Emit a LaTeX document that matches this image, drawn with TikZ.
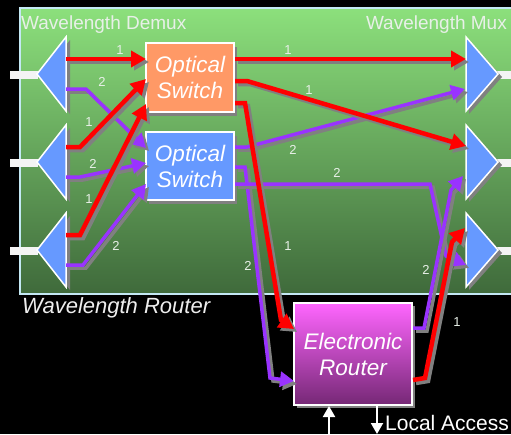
\documentclass[tikz,border=0pt]{standalone}
\usepackage{fontspec}
\setmainfont{Liberation Sans}
\usetikzlibrary{arrows.meta}
\definecolor{panelTop}{HTML}{8CE07C}
\definecolor{panelBot}{HTML}{3F6A3B}
\definecolor{panelEdge}{HTML}{C4E8F4}
\definecolor{triBlue}{HTML}{6699FF}
\definecolor{swOrange}{HTML}{FF9966}
\definecolor{redLine}{HTML}{FF0000}
\definecolor{purLine}{HTML}{9933FF}
\definecolor{shadowGray}{HTML}{808080}
\definecolor{routerTop}{HTML}{FF66FF}
\definecolor{routerBot}{HTML}{752875}
\definecolor{labelCol}{HTML}{E8F0E8}
\definecolor{stubWhite}{HTML}{F4F4F4}
\tikzset{
  redwire/.style={draw=redLine, line width=4.5pt, -{Triangle[length=15pt,width=16pt]}},
  purwire/.style={draw=purLine, line width=3.5pt, -{Triangle[length=14pt,width=15pt]}},
  wireshadow/.style={draw=shadowGray},
  numlbl/.style={text=labelCol, font=\fontsize{13}{13}\selectfont, inner sep=0pt},
  boxtext/.style={text=white, align=center, font=\fontsize{22.5}{26}\selectfont\itshape},
  tribox/.style={fill=triBlue, draw=white, line width=1.5pt, line join=miter},
  trishadow/.style={fill=shadowGray}
}
\newcommand\wire[2]{%
  \begin{scope}[transform canvas={shift={(3pt,-3pt)}}]\draw[#1,wireshadow] #2;\end{scope}
  \draw[#1] #2;}
\newcommand\demuxtri[1]{%
  \fill[stubWhite] (10,#1-3) rectangle (38,#1+5);
  \fill[trishadow] (41,#1+3) -- (70,#1-34) -- (70,#1+40) -- cycle;
  \path[tribox] (37,#1) -- (66,#1-37) -- (66,#1+37) -- cycle;}
\newcommand\muxtri[1]{%
  \fill[stubWhite] (497,#1-3) rectangle (515,#1+5);
  \fill[trishadow] (469,#1-34) -- (502,#1+3) -- (469,#1+40) -- cycle;
  \path[tribox] (466,#1-37) -- (498,#1) -- (466,#1+37) -- cycle;}
\begin{document}
\begin{tikzpicture}[x=1pt,y=-1pt]
\useasboundingbox (0,0) rectangle (511,434);
\fill[black] (0,0) rectangle (511,434);
\clip (0,0) rectangle (511,434);
% panel
\shade[top color=panelTop, bottom color=panelBot] (20,8) rectangle (530,294);
\draw[panelEdge, line width=1.5pt] (20,8) rectangle (530,294);
\node[anchor=base west, text=labelCol, font=\fontsize{19}{19}\selectfont, inner sep=0pt] (demuxlbl) at (21,29) {Wavelength Demux};
\node[anchor=base east, text=labelCol, font=\fontsize{19}{19}\selectfont, inner sep=0pt] (muxlbl) at (507,29) {Wavelength Mux};
\node[anchor=base west, text=white!93!black, font=\fontsize{22}{22}\selectfont\itshape, inner sep=0pt] (routerlbl) at (22,313) {Wavelength Router};
% triangles
\demuxtri{74}
\demuxtri{162}
\demuxtri{250}
\muxtri{74}
\muxtri{162}
\muxtri{250}
% boxes
\fill[shadowGray] (149,47) rectangle (237,116);
\node[draw=white, line width=2pt, fill=swOrange, minimum width=88pt, minimum height=69pt, inner sep=0pt, boxtext] (sw1) at (190,77.5) {Optical\\Switch};
\fill[shadowGray] (149,136) rectangle (237,204);
\node[draw=white, line width=2pt, fill=triBlue, minimum width=88pt, minimum height=68pt, inner sep=0pt, boxtext] (sw2) at (190,166) {Optical\\Switch};
\fill[shadowGray] (297,306) rectangle (415,408);
\shade[top color=routerTop, bottom color=routerBot] (294,303) rectangle (412,405);
\draw[white, line width=2pt] (294,303) rectangle (412,405);
\node[boxtext, inner sep=0pt] (er) at (353,354) {Electronic\\Router};
% ports
\coordinate (d1a) at (66,59); \coordinate (d1b) at (66,89);
\coordinate (d2a) at (66,147); \coordinate (d2b) at (66,177);
\coordinate (d3a) at (66,235); \coordinate (d3b) at (66,265);
\coordinate (s1i1) at (146,59); \coordinate (s1i2) at (146,79); \coordinate (s1i3) at (146,104);
\coordinate (s2i1) at (146,148); \coordinate (s2i2) at (146,163); \coordinate (s2i3) at (146,184);
\coordinate (s1o1) at (235,59); \coordinate (s1o2) at (235,81); \coordinate (s1o3) at (235,103);
\coordinate (s2o1) at (235,147); \coordinate (s2o2) at (235,167); \coordinate (s2o3) at (235,184);
\coordinate (m1a) at (466,59); \coordinate (m1b) at (465,89);
\coordinate (m2a) at (466,146); \coordinate (m2b) at (463,176);
\coordinate (m3a) at (465,228); \coordinate (m3b) at (466,265);
\coordinate (ri1) at (294,329); \coordinate (ri2) at (294,381);
\coordinate (ro1) at (413,328); \coordinate (ro2) at (413,380);
% purple wires
\wire{purwire}{(d1b) -- (86,89) -- (s2i1)}
\wire{purwire}{(d2b) -- (80,177) -- (s2i2)}
\wire{purwire}{(d3b) -- (83,265) -- (s2i3)}
\wire{purwire}{(s2o1) -- (247,147) -- (m1b)}
\wire{purwire}{(s2o2) -- (245,167) -- (270,378) -- (ri2)}
\wire{purwire}{(s2o3) -- (430,184) -- (446,256) -- (m3b)}
\wire{purwire}{(ro1) -- (424,328) -- (451,190) -- (m2b)}
% red wires
\wire{redwire}{(d1a) -- (s1i1)}
\wire{redwire}{(d2a) -- (80,147) -- (s1i2)}
\wire{redwire}{(d3a) -- (80,235) -- (s1i3)}
\wire{redwire}{(s1o1) -- (m1a)}
\wire{redwire}{(s1o2) -- (247,81) -- (m2a)}
\wire{redwire}{(s1o3) -- (245,103) -- (281,320) -- (ri1)}
\wire{redwire}{(ro2) -- (425,378) -- (452,242) -- (m3a)}
% labels
\node[numlbl] (l1) at (120,50) {1};
\node[numlbl] (l2) at (102,82) {2};
\node[numlbl] (l3) at (89,122) {1};
\node[numlbl] (l4) at (93,164) {2};
\node[numlbl] (l5) at (89,199) {1};
\node[numlbl] (l6) at (116,246) {2};
\node[numlbl] (l7) at (288,50) {1};
\node[numlbl] (l8) at (309,90) {1};
\node[numlbl] (l9) at (288,246) {1};
\node[numlbl] (l10) at (293,150) {2};
\node[numlbl] (l11) at (248,266) {2};
\node[numlbl] (l12) at (337,173) {2};
\node[numlbl] (l13) at (426,270) {2};
\node[numlbl] (l14) at (457,322) {1};
% local access
\coordinate (laup) at (329,436);
\coordinate (laupend) at (329,406);
\coordinate (ladn) at (377,406);
\coordinate (ladnend) at (377,434);
\draw[white, line width=2pt, -{Triangle[length=11pt,width=12pt]}] (laup) -- (laupend);
\draw[white, line width=2pt, -{Triangle[length=11pt,width=12pt]}] (ladn) -- (ladnend);
\node[anchor=base west, text=white, font=\fontsize{21}{21}\selectfont, inner sep=0pt] (la) at (385,430) {Local Access};
\end{tikzpicture}
\end{document}
